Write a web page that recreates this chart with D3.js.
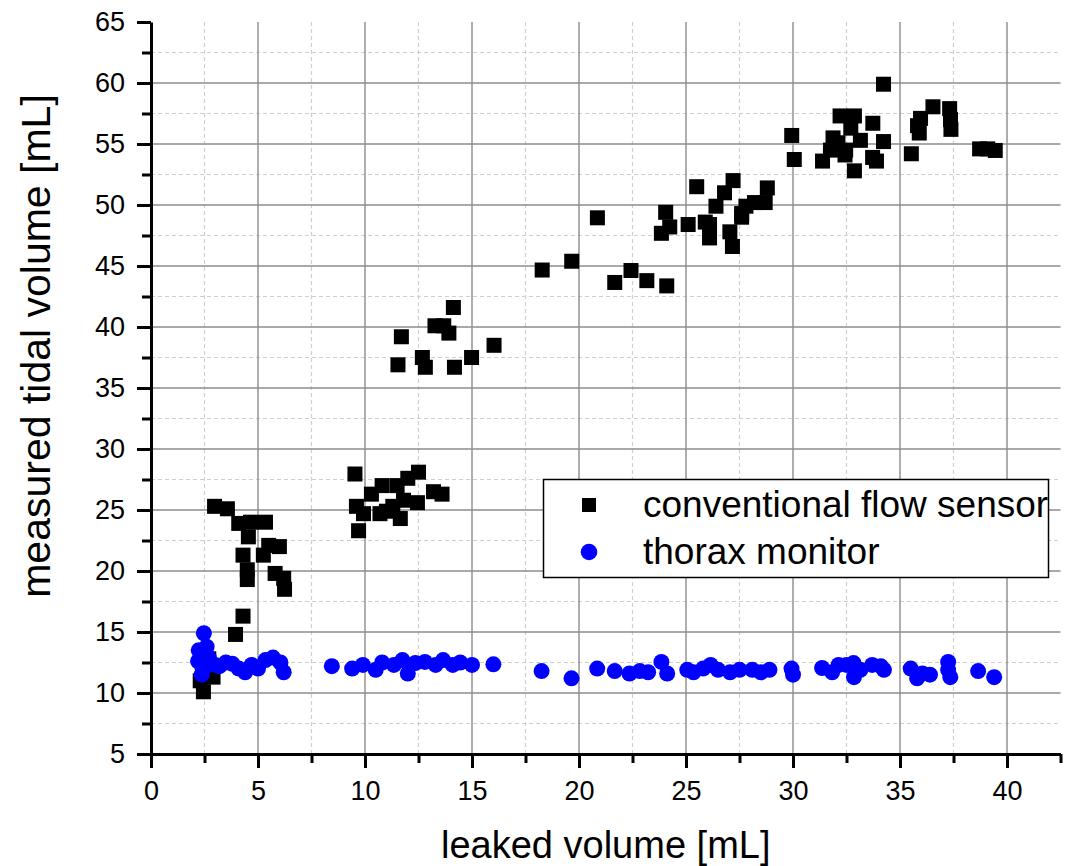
<!DOCTYPE html>
<html>
<head>
<meta charset="utf-8">
<script src="https://cdn.jsdelivr.net/npm/d3@7"></script>
<style>
  body { margin: 0; background: #fff; }
  svg text { font-family: Arial, "Liberation Sans", sans-serif; fill: #000; }
</style>
</head>
<body>
<div id="chart"></div>
<script>
// leaked volume [mL] vs measured tidal volume [mL]
const flowSensor = [
  [2.3, 11.0], [2.4, 11.6], [2.45, 10.1], [2.6, 12.0], [2.9, 11.3], [2.7, 12.8], [2.4, 12.5],
  [2.97, 25.3], [3.57, 25.1], [4.1, 23.9], [4.65, 24.0], [5.35, 24.0],
  [4.55, 22.8], [4.3, 21.3], [4.5, 20.1], [4.5, 19.3], [5.25, 21.3], [5.5, 22.1], [6.0, 22.0],
  [5.8, 19.8], [6.2, 19.4], [6.24, 18.5], [4.3, 16.3], [3.95, 14.8],
  [9.53, 27.95], [9.6, 25.3], [9.7, 23.3], [9.93, 24.7], [10.3, 26.3], [10.7, 24.7], [10.8, 27.0],
  [11.0, 24.9], [11.3, 25.3], [11.5, 27.0], [11.65, 24.3], [11.8, 25.8], [12.0, 27.6], [12.45, 25.6],
  [12.5, 28.1], [13.2, 26.5], [13.6, 26.3],
  [11.54, 36.9], [11.7, 39.2], [12.68, 37.5], [12.82, 36.7], [13.27, 40.1], [13.68, 40.1],
  [13.92, 39.5], [14.13, 41.6], [14.18, 36.7], [14.98, 37.5], [16.03, 38.5],
  [18.28, 44.67], [19.66, 45.39], [20.86, 48.95], [21.67, 43.65], [22.43, 44.63], [23.17, 43.8],
  [24.1, 43.37], [23.85, 47.68], [24.05, 49.4], [24.24, 48.2], [25.1, 48.4], [25.5, 51.5],
  [25.9, 48.6], [26.1, 48.4], [26.1, 47.3], [26.4, 49.9], [26.8, 51.0], [27.2, 52.0], [27.05, 47.8],
  [27.17, 46.6], [27.6, 49.3], [27.8, 49.9], [28.2, 50.2], [28.7, 50.2], [28.8, 51.4], [27.6, 49.0],
  [29.94, 55.7], [30.06, 53.73], [31.38, 53.6], [31.87, 55.5], [32.1, 55.1], [32.46, 54.5],
  [31.75, 54.5], [32.2, 57.3], [32.87, 57.3], [33.15, 55.3], [32.7, 56.3], [32.43, 54.1],
  [32.87, 52.8], [33.73, 56.7], [33.72, 53.9], [33.9, 53.6], [34.23, 55.2], [34.23, 59.9],
  [35.53, 54.2], [35.82, 56.5], [35.9, 55.9], [35.96, 57.1], [36.54, 58.05], [37.32, 57.9],
  [37.36, 57.0], [37.38, 56.2], [38.72, 54.6], [39.1, 54.6], [39.45, 54.47]
];

const thoraxMonitor = [
  [2.47, 14.9], [2.6, 13.8], [2.23, 13.5], [2.2, 12.6], [2.37, 11.5], [2.45, 12.0], [2.7, 12.9],
  [3.0, 12.3], [3.2, 12.2], [3.5, 12.5], [3.8, 12.4], [4.1, 12.0], [4.4, 11.7], [4.7, 12.3],
  [5.0, 12.0], [5.35, 12.7], [5.7, 12.9], [6.05, 12.5], [6.2, 11.7],
  [8.45, 12.2], [9.4, 12.0], [9.9, 12.3], [10.5, 11.9], [10.8, 12.5], [11.35, 12.3], [11.75, 12.7],
  [12.0, 11.6], [12.35, 12.45], [12.8, 12.55], [13.3, 12.3], [13.65, 12.7], [14.1, 12.3],
  [14.45, 12.5], [15.0, 12.3], [16.0, 12.35], [18.25, 11.8], [19.65, 11.2],
  [20.85, 12.0], [21.67, 11.8], [22.36, 11.6], [22.84, 11.8], [23.23, 11.7], [23.85, 12.55],
  [24.12, 11.6], [25.06, 11.9], [25.35, 11.7], [25.8, 12.0], [26.15, 12.3], [26.5, 11.9],
  [27.06, 11.7], [27.5, 11.9], [28.1, 11.9], [28.5, 11.7], [28.9, 11.9], [29.93, 12.0], [30.0, 11.5],
  [31.36, 12.05], [31.83, 11.7], [32.13, 12.3], [32.5, 12.3], [32.83, 12.45], [32.85, 11.3],
  [33.15, 11.9], [33.7, 12.3], [34.1, 12.2], [34.25, 11.9], [35.5, 12.0], [35.8, 11.2],
  [36.05, 11.6], [36.4, 11.5], [37.25, 12.55], [37.35, 11.3], [37.25, 11.9], [38.65, 11.8], [39.4, 11.3]
];

const xMajor = [0, 5, 10, 15, 20, 25, 30, 35, 40];
const xMinor = [2.5, 7.5, 12.5, 17.5, 22.5, 27.5, 32.5, 37.5, 42.5];
const yMajor = [5, 10, 15, 20, 25, 30, 35, 40, 45, 50, 55, 60, 65];
const yMinor = [7.5, 12.5, 17.5, 22.5, 27.5, 32.5, 37.5, 42.5, 47.5, 52.5, 57.5, 62.5];

const seriesNames = ['conventional flow sensor', 'thorax monitor'];

const W = 1081, H = 866;
const plotL = 151, plotR = 1060.5, plotT = 22, plotB = 754;

const svg = d3.select('#chart').append('svg')
  .attr('width', W).attr('height', H);

const x = d3.scaleLinear().domain([0, 42.5]).range([plotL, plotR]);
const y = d3.scaleLinear().domain([5, 65]).range([plotB, plotT]);

// grid
const grid = svg.append('g');
grid.selectAll('line.vmin').data(xMinor.filter(d => d < 42.5)).enter().append('line')
  .attr('x1', d => x(d)).attr('x2', d => x(d)).attr('y1', plotT).attr('y2', plotB)
  .attr('stroke', '#cfcfcf').attr('stroke-width', 1.2).attr('stroke-dasharray', '4,3');
grid.selectAll('line.hmin').data(yMinor).enter().append('line')
  .attr('x1', plotL).attr('x2', plotR).attr('y1', d => y(d)).attr('y2', d => y(d))
  .attr('stroke', '#cfcfcf').attr('stroke-width', 1.2).attr('stroke-dasharray', '4,3');
grid.selectAll('line.vmaj').data(xMajor.filter(d => d > 0)).enter().append('line')
  .attr('x1', d => x(d)).attr('x2', d => x(d)).attr('y1', plotT).attr('y2', plotB)
  .attr('stroke', '#8c8c8c').attr('stroke-width', 1.4);
grid.selectAll('line.hmaj').data(yMajor.filter(d => d > 5 && d < 65)).enter().append('line')
  .attr('x1', plotL).attr('x2', plotR).attr('y1', d => y(d)).attr('y2', d => y(d))
  .attr('stroke', '#8c8c8c').attr('stroke-width', 1.4);

// markers
svg.append('g').selectAll('rect').data(flowSensor).enter().append('rect')
  .attr('x', d => x(d[0]) - 7.5).attr('y', d => y(d[1]) - 7.5)
  .attr('width', 15).attr('height', 15)
  .attr('fill', '#000');

svg.append('g').selectAll('circle').data(thoraxMonitor).enter().append('circle')
  .attr('cx', d => x(d[0])).attr('cy', d => y(d[1])).attr('r', 8)
  .attr('fill', '#0000ff');

// axes
function styleAxis(g) {
  g.select('.domain').attr('stroke', '#000').attr('stroke-width', 3);
  g.selectAll('.tick line').attr('stroke', '#000').attr('stroke-width', 3);
  g.selectAll('.tick text').attr('font-size', 27).attr('font-family', 'Arial, "Liberation Sans", sans-serif');
}

svg.append('g').attr('transform', `translate(0,${plotB})`)
  .call(d3.axisBottom(x).tickValues(xMinor).tickSize(9).tickFormat(''))
  .call(g => { g.select('.domain').remove(); g.selectAll('.tick line').attr('stroke', '#000').attr('stroke-width', 3); });
svg.append('g').attr('transform', `translate(${plotL},0)`)
  .call(d3.axisLeft(y).tickValues(yMinor).tickSize(9).tickFormat(''))
  .call(g => { g.select('.domain').remove(); g.selectAll('.tick line').attr('stroke', '#000').attr('stroke-width', 3); });

svg.append('g').attr('transform', `translate(0,${plotB})`)
  .call(d3.axisBottom(x).tickValues(xMajor).tickSize(14).tickSizeOuter(0).tickPadding(13).tickFormat(d3.format('d')))
  .call(styleAxis);
svg.append('g').attr('transform', `translate(${plotL},0)`)
  .call(d3.axisLeft(y).tickValues(yMajor).tickSize(14).tickSizeOuter(0).tickPadding(12).tickFormat(d3.format('d')))
  .call(styleAxis);

// axis titles
svg.append('text')
  .attr('x', (plotL + plotR) / 2).attr('y', 858)
  .attr('text-anchor', 'middle').attr('font-size', 38)
  .text('leaked volume [mL]');
svg.append('text')
  .attr('transform', `translate(50,346) rotate(-90)`)
  .attr('text-anchor', 'middle').attr('font-size', 41)
  .text('measured tidal volume [mL]');

// legend
const legend = svg.append('g');
legend.append('rect')
  .attr('x', 543.5).attr('y', 479.5).attr('width', 505).attr('height', 98)
  .attr('fill', '#fff').attr('stroke', '#000').attr('stroke-width', 1.5);
legend.append('rect')
  .attr('x', 589 - 7).attr('y', 505 - 7).attr('width', 14).attr('height', 14).attr('fill', '#000');
legend.append('circle')
  .attr('cx', 589).attr('cy', 552).attr('r', 8.3).attr('fill', '#0000ff');
legend.selectAll('text.lbl').data(seriesNames).enter().append('text')
  .attr('x', 643).attr('y', (d, i) => 517 + i * 46.5)
  .attr('font-size', 37)
  .text(d => d);
</script>
</body>
</html>
